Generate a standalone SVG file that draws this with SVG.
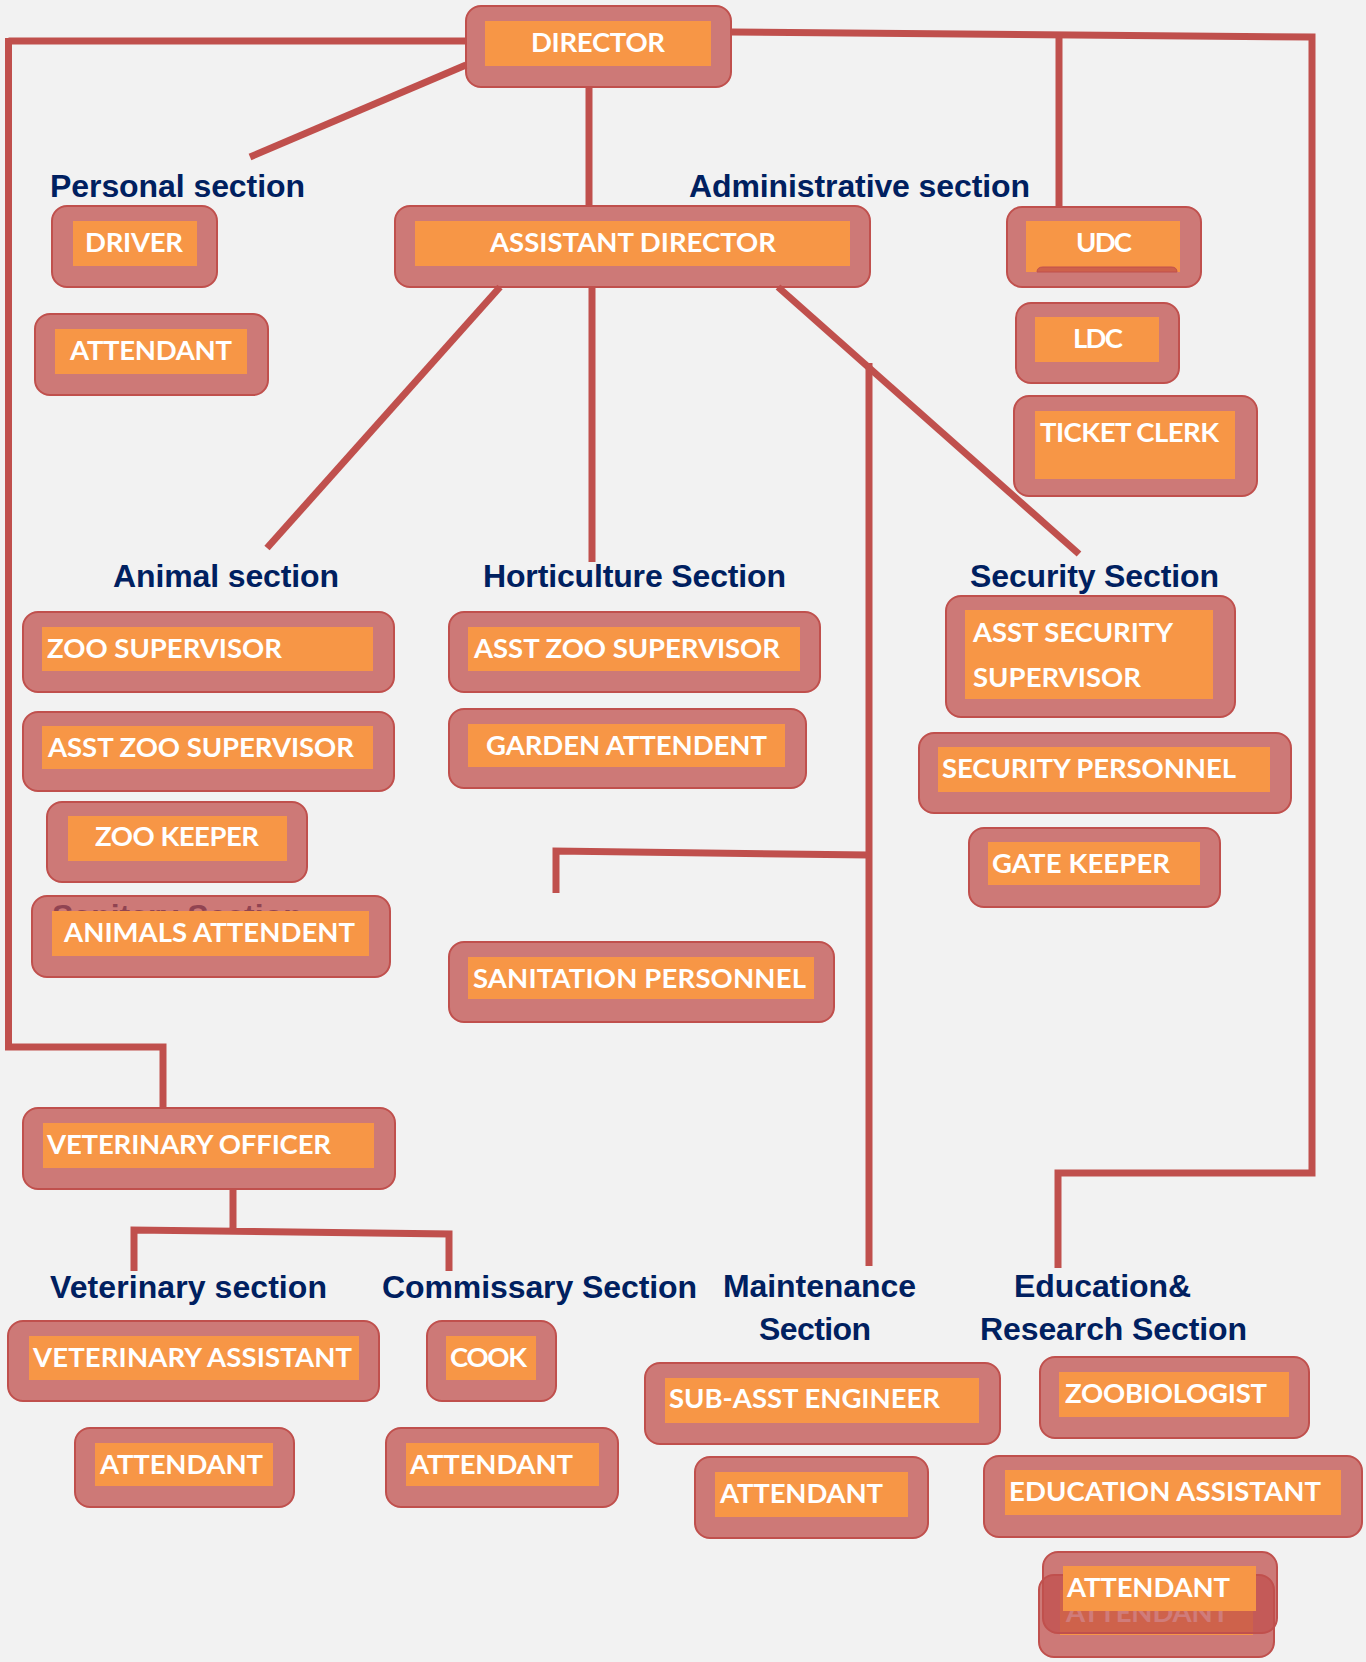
<svg xmlns="http://www.w3.org/2000/svg" width="1366" height="1662" viewBox="0 0 1366 1662">
<style>
.o{fill:rgba(192,80,77,0.75);stroke:#C0504D;stroke-width:2}
.i{fill:#F79646}
.t{font-family:Lato,"Open Sans",sans-serif;font-weight:bold;font-size:27.5px;fill:#FFFFFF}
.c{text-anchor:middle}
.s{font-family:"Liberation Sans",Arial,sans-serif;font-weight:bold;font-size:32px;fill:#002060}
.ln{fill:none;stroke:#C0504D;stroke-width:7}
</style>
<rect width="1366" height="1662" fill="#F2F2F2"/>
<g id="connectors">
<path class="ln" d="M466,41 L8.5,41 M8.5,38 L8.5,1047 L163,1047 L163,1108"/>
<path class="ln" d="M732,32 L1312,37 L1312,1173 L1058,1173 L1058,1268"/>
<path class="ln" d="M1059,34 L1059,207"/>
<path class="ln" d="M589,87 L589,206"/>
<path class="ln" d="M466,65 L250,157"/>
<path class="ln" d="M500,287 L267,548"/>
<path class="ln" d="M592,287 L592,562"/>
<path class="ln" d="M778,287 L1079,554"/>
<path class="ln" d="M869,363 L869,1266"/>
<path class="ln" d="M869,855 L556,851 L556,893"/>
<path class="ln" d="M233,1189 L233,1231 M134,1271 L134,1230 L449,1234 L449,1271"/>
</g>
<g id="label-personal"><text class="s" x="50" y="197" textLength="255">Personal section</text></g>
<g id="label-administrative"><text class="s" x="689" y="197" textLength="341">Administrative section</text></g>
<g id="label-animal"><text class="s" x="113" y="587" textLength="226">Animal section</text></g>
<g id="label-horticulture"><text class="s" x="483" y="587" textLength="303">Horticulture Section</text></g>
<g id="label-security"><text class="s" x="970" y="587" textLength="249">Security Section</text></g>
<g id="label-veterinary"><text class="s" x="50" y="1298" textLength="277">Veterinary section</text></g>
<g id="label-commissary"><text class="s" x="382" y="1298" textLength="315">Commissary Section</text></g>
<g id="label-maintenance"><text class="s" x="723" y="1297" textLength="193">Maintenance</text><text class="s" x="759" y="1340" textLength="112">Section</text></g>
<g id="label-education"><text class="s" x="1014" y="1297" textLength="177">Education&amp;</text><text class="s" x="980" y="1340" textLength="267">Research Section</text></g>
<g id="label-sanitary"><text class="s" x="52" y="927">Sanitary Section</text></g>

<g id="director"><rect class="o" x="466" y="6" width="265" height="81" rx="15"/><rect class="i" x="485" y="21" width="226" height="45"/><text class="t c" x="598" y="52" textLength="134">DIRECTOR</text></g>
<g id="driver"><rect class="o" x="52" y="206" width="165" height="81" rx="15"/><rect class="i" x="73" y="221" width="124" height="45"/><text class="t c" x="134" y="252" textLength="98">DRIVER</text></g>
<g id="attendant-personal"><rect class="o" x="35" y="314" width="233" height="81" rx="15"/><rect class="i" x="55" y="329" width="192" height="45"/><text class="t c" x="151" y="360" textLength="162">ATTENDANT</text></g>
<g id="assistant-director"><rect class="o" x="395" y="206" width="475" height="81" rx="15"/><rect class="i" x="415" y="221" width="435" height="45"/><text class="t c" x="633" y="252" textLength="286">ASSISTANT DIRECTOR</text></g>
<g id="udc"><rect class="o" x="1007" y="207" width="194" height="80" rx="15"/><rect class="i" x="1026" y="221" width="154" height="51"/><path d="M1037,272 Q1037,267 1043,267 L1171,267 Q1177,267 1177,272 Z" fill="#CE614B" stroke="#C0504D" stroke-width="1"/><text class="t c" x="1104" y="252" textLength="56">UDC</text></g>
<g id="ldc"><rect class="o" x="1016" y="303" width="163" height="80" rx="15"/><rect class="i" x="1035" y="317" width="124" height="45"/><text class="t c" x="1098" y="348" textLength="50">LDC</text></g>
<g id="ticket-clerk"><rect class="o" x="1014" y="396" width="243" height="100" rx="15"/><rect class="i" x="1035" y="411" width="200" height="68"/><text class="t" x="1040" y="442" textLength="179">TICKET CLERK</text></g>

<g id="zoo-supervisor"><rect class="o" x="23" y="612" width="371" height="80" rx="15"/><rect class="i" x="42" y="627" width="331" height="44"/><text class="t" x="47" y="658" textLength="235">ZOO SUPERVISOR</text></g>
<g id="asst-zoo-supervisor-animal"><rect class="o" x="23" y="712" width="371" height="79" rx="15"/><rect class="i" x="42" y="726" width="331" height="43"/><text class="t" x="48" y="757" textLength="306">ASST ZOO SUPERVISOR</text></g>
<g id="zoo-keeper"><rect class="o" x="47" y="802" width="260" height="80" rx="15"/><rect class="i" x="68" y="816" width="219" height="45"/><text class="t c" x="177" y="846" textLength="164">ZOO KEEPER</text></g>
<g id="animals-attendent"><rect class="o" x="32" y="896" width="358" height="81" rx="15"/><rect class="i" x="52" y="911" width="317" height="45"/><text class="t" x="64" y="942" textLength="291">ANIMALS ATTENDENT</text></g>

<g id="asst-zoo-supervisor-horticulture"><rect class="o" x="449" y="612" width="371" height="80" rx="15"/><rect class="i" x="468" y="627" width="332" height="44"/><text class="t" x="474" y="658" textLength="306">ASST ZOO SUPERVISOR</text></g>
<g id="garden-attendent"><rect class="o" x="449" y="709" width="357" height="79" rx="15"/><rect class="i" x="468" y="724" width="317" height="43"/><text class="t" x="486" y="755" textLength="281">GARDEN ATTENDENT</text></g>
<g id="sanitation-personnel"><rect class="o" x="449" y="942" width="385" height="80" rx="15"/><rect class="i" x="468" y="957" width="346" height="42"/><text class="t" x="473" y="988" textLength="333">SANITATION PERSONNEL</text></g>

<g id="asst-security-supervisor"><rect class="o" x="946" y="596" width="289" height="121" rx="15"/><rect class="i" x="965" y="610" width="248" height="89"/><text class="t" x="973" y="642" textLength="200">ASST SECURITY</text><text class="t" x="973" y="687" textLength="168">SUPERVISOR</text></g>
<g id="security-personnel"><rect class="o" x="919" y="733" width="372" height="80" rx="15"/><rect class="i" x="938" y="747" width="332" height="45"/><text class="t" x="942" y="778" textLength="294">SECURITY PERSONNEL</text></g>
<g id="gate-keeper"><rect class="o" x="969" y="828" width="251" height="79" rx="15"/><rect class="i" x="988" y="842" width="212" height="43"/><text class="t" x="992" y="873" textLength="178">GATE KEEPER</text></g>

<g id="veterinary-officer"><rect class="o" x="23" y="1108" width="372" height="81" rx="15"/><rect class="i" x="43" y="1123" width="331" height="45"/><text class="t" x="47" y="1154" textLength="284">VETERINARY OFFICER</text></g>
<g id="veterinary-assistant"><rect class="o" x="8" y="1321" width="371" height="80" rx="15"/><rect class="i" x="29" y="1336" width="330" height="44"/><text class="t" x="33" y="1367" textLength="319">VETERINARY ASSISTANT</text></g>
<g id="attendant-veterinary"><rect class="o" x="75" y="1428" width="219" height="79" rx="15"/><rect class="i" x="95" y="1443" width="178" height="43"/><text class="t" x="100" y="1474" textLength="163">ATTENDANT</text></g>
<g id="cook"><rect class="o" x="427" y="1321" width="129" height="80" rx="15"/><rect class="i" x="446" y="1336" width="90" height="44"/><text class="t" x="450" y="1367" textLength="77">COOK</text></g>
<g id="attendant-commissary"><rect class="o" x="386" y="1428" width="232" height="79" rx="15"/><rect class="i" x="406" y="1443" width="193" height="43"/><text class="t" x="410" y="1474" textLength="163">ATTENDANT</text></g>
<g id="sub-asst-engineer"><rect class="o" x="645" y="1363" width="355" height="81" rx="15"/><rect class="i" x="665" y="1378" width="314" height="45"/><text class="t" x="669" y="1408" textLength="271">SUB-ASST ENGINEER</text></g>
<g id="attendant-maintenance"><rect class="o" x="695" y="1457" width="233" height="81" rx="15"/><rect class="i" x="715" y="1472" width="193" height="45"/><text class="t" x="720" y="1503" textLength="163">ATTENDANT</text></g>
<g id="zoobiologist"><rect class="o" x="1040" y="1357" width="269" height="81" rx="15"/><rect class="i" x="1059" y="1372" width="230" height="45"/><text class="t" x="1065" y="1403" textLength="202">ZOOBIOLOGIST</text></g>
<g id="education-assistant"><rect class="o" x="984" y="1456" width="378" height="81" rx="15"/><rect class="i" x="1005" y="1470" width="336" height="45"/><text class="t" x="1009" y="1501" textLength="312">EDUCATION ASSISTANT</text></g>
<g id="attendant-education-lower"><rect class="o" x="1039" y="1575" width="235" height="82" rx="15"/><rect class="i" x="1060" y="1590" width="193" height="45"/><text class="t" x="1066" y="1622" textLength="163">ATTENDANT</text></g>
<g id="attendant-education"><rect class="o" x="1043" y="1552" width="234" height="81" rx="15"/><rect class="i" x="1063" y="1566" width="193" height="45"/><text class="t" x="1067" y="1597" textLength="163">ATTENDANT</text></g>
</svg>
